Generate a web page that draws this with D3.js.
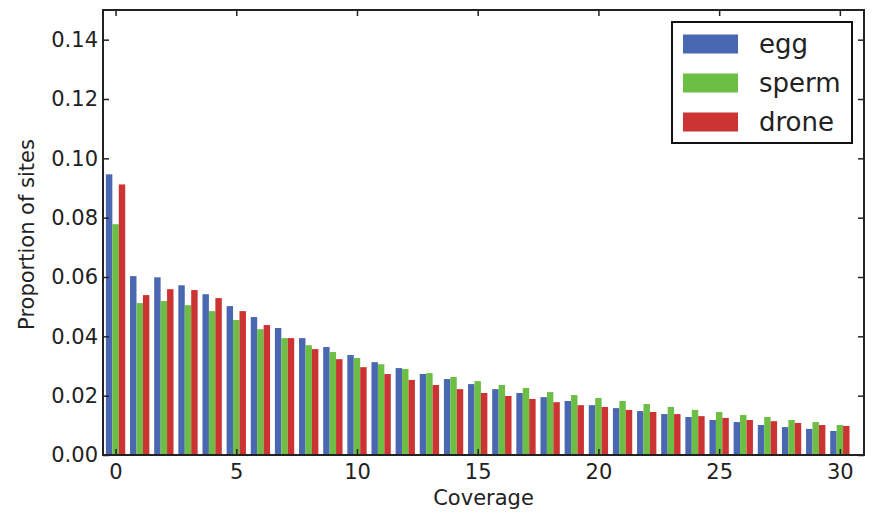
<!DOCTYPE html>
<html>
<head>
<meta charset="utf-8">
<script src="https://cdn.jsdelivr.net/npm/d3@7"></script>
<style>
  body { margin: 0; background: #fff; }
  text { font-family: "DejaVu Sans", sans-serif; fill: #222; }
</style>
</head>
<body>
<svg width="878" height="513"></svg>
<script>
// coverage levels on the x axis
const coverage = d3.range(0, 31);

// proportion of sites per coverage
const egg = [0.0946, 0.0603, 0.0599, 0.0572, 0.0542, 0.0502, 0.0465, 0.0428, 0.0394, 0.0364,
  0.0337, 0.0313, 0.0293, 0.0273, 0.0256, 0.0239, 0.0222, 0.0209, 0.0195, 0.0182,
  0.0168, 0.0158, 0.0148, 0.0138, 0.0128, 0.0118, 0.0111, 0.0101, 0.0094, 0.0088, 0.0081];
const sperm = [0.0778, 0.0512, 0.0519, 0.0505, 0.0485, 0.0455, 0.0424, 0.0394, 0.0370, 0.0347,
  0.0327, 0.0306, 0.0290, 0.0276, 0.0263, 0.0249, 0.0236, 0.0226, 0.0212, 0.0202,
  0.0192, 0.0182, 0.0172, 0.0162, 0.0152, 0.0145, 0.0135, 0.0128, 0.0118, 0.0111, 0.0101];
const drone = [0.0912, 0.0539, 0.0559, 0.0556, 0.0529, 0.0485, 0.0438, 0.0394, 0.0357, 0.0323,
  0.0296, 0.0273, 0.0253, 0.0236, 0.0222, 0.0209, 0.0199, 0.0189, 0.0178, 0.0168,
  0.0162, 0.0152, 0.0145, 0.0138, 0.0131, 0.0125, 0.0118, 0.0114, 0.0108, 0.0101, 0.0098];

const seriesNames = ["egg", "sperm", "drone"];
const colors = ["#4A67B2", "#6DBE45", "#CC3333"];
const xTicks = [0, 5, 10, 15, 20, 25, 30];
const yTicks = [0, 0.02, 0.04, 0.06, 0.08, 0.10, 0.12, 0.14];

const series = [egg, sperm, drone];

const margin = { left: 103, right: 864, top: 10, bottom: 455 };
const svg = d3.select("svg");

const x = d3.scaleLinear().domain([-0.52, 31.0]).range([margin.left, margin.right]);
const y = d3.scaleLinear().domain([0, 0.15]).range([margin.bottom, margin.top]);

const barW = 0.8 / 3;

// bars
series.forEach((vals, i) => {
  svg.append("g")
    .selectAll("rect")
    .data(vals)
    .enter()
    .append("rect")
    .attr("x", (d, j) => x(coverage[j] - 0.4 + i * barW))
    .attr("width", x(barW) - x(0))
    .attr("y", d => y(d))
    .attr("height", d => y(0) - y(d))
    .attr("fill", colors[i]);
});

// axes with inward ticks on all four sides
const tickLen = 6;
const axisBottom = d3.axisBottom(x).tickValues(xTicks).tickSizeInner(-tickLen).tickSizeOuter(0).tickPadding(9);
const axisTop = d3.axisTop(x).tickValues(xTicks).tickSizeInner(-tickLen).tickSizeOuter(0).tickFormat("");
const axisLeft = d3.axisLeft(y).tickValues(yTicks).tickSizeInner(-tickLen).tickSizeOuter(0).tickPadding(5)
  .tickFormat(d3.format(".2f"));
const axisRight = d3.axisRight(y).tickValues(yTicks).tickSizeInner(-tickLen).tickSizeOuter(0).tickFormat("");

function styleAxis(g) {
  g.select(".domain").remove();
  g.selectAll(".tick line").attr("stroke", "#222").attr("stroke-width", 1.5);
  g.selectAll(".tick text").style("font-size", "21px").attr("fill", "#222");
}

svg.append("g").attr("transform", `translate(0,${margin.bottom})`).call(axisBottom).call(styleAxis);
svg.append("g").attr("transform", `translate(0,${margin.top})`).call(axisTop).call(styleAxis);
svg.append("g").attr("transform", `translate(${margin.left},0)`).call(axisLeft).call(styleAxis);
svg.append("g").attr("transform", `translate(${margin.right},0)`).call(axisRight).call(styleAxis);

// frame
svg.append("rect")
  .attr("x", margin.left).attr("y", margin.top)
  .attr("width", margin.right - margin.left)
  .attr("height", margin.bottom - margin.top)
  .attr("fill", "none").attr("stroke", "#222").attr("stroke-width", 2);

// axis labels
svg.append("text")
  .attr("x", (margin.left + margin.right) / 2).attr("y", 505)
  .attr("text-anchor", "middle").style("font-size", "21px")
  .text("Coverage");

svg.append("text")
  .attr("transform", `translate(34,${(margin.top + margin.bottom) / 2 + 2}) rotate(-90)`)
  .attr("text-anchor", "middle").style("font-size", "21px")
  .text("Proportion of sites");

// legend
const legend = svg.append("g");
legend.append("rect")
  .attr("x", 672).attr("y", 22).attr("width", 180).attr("height", 121)
  .attr("fill", "#fff").attr("stroke", "#111").attr("stroke-width", 2);

seriesNames.forEach((name, i) => {
  const cy = 44 + i * 39;
  legend.append("rect")
    .attr("x", 683).attr("y", cy - 9.5).attr("width", 55).attr("height", 19)
    .attr("fill", colors[i]);
  legend.append("text")
    .attr("x", 759).attr("y", cy).attr("dy", "0.35em")
    .style("font-size", "26px")
    .text(name);
});
</script>
</body>
</html>
